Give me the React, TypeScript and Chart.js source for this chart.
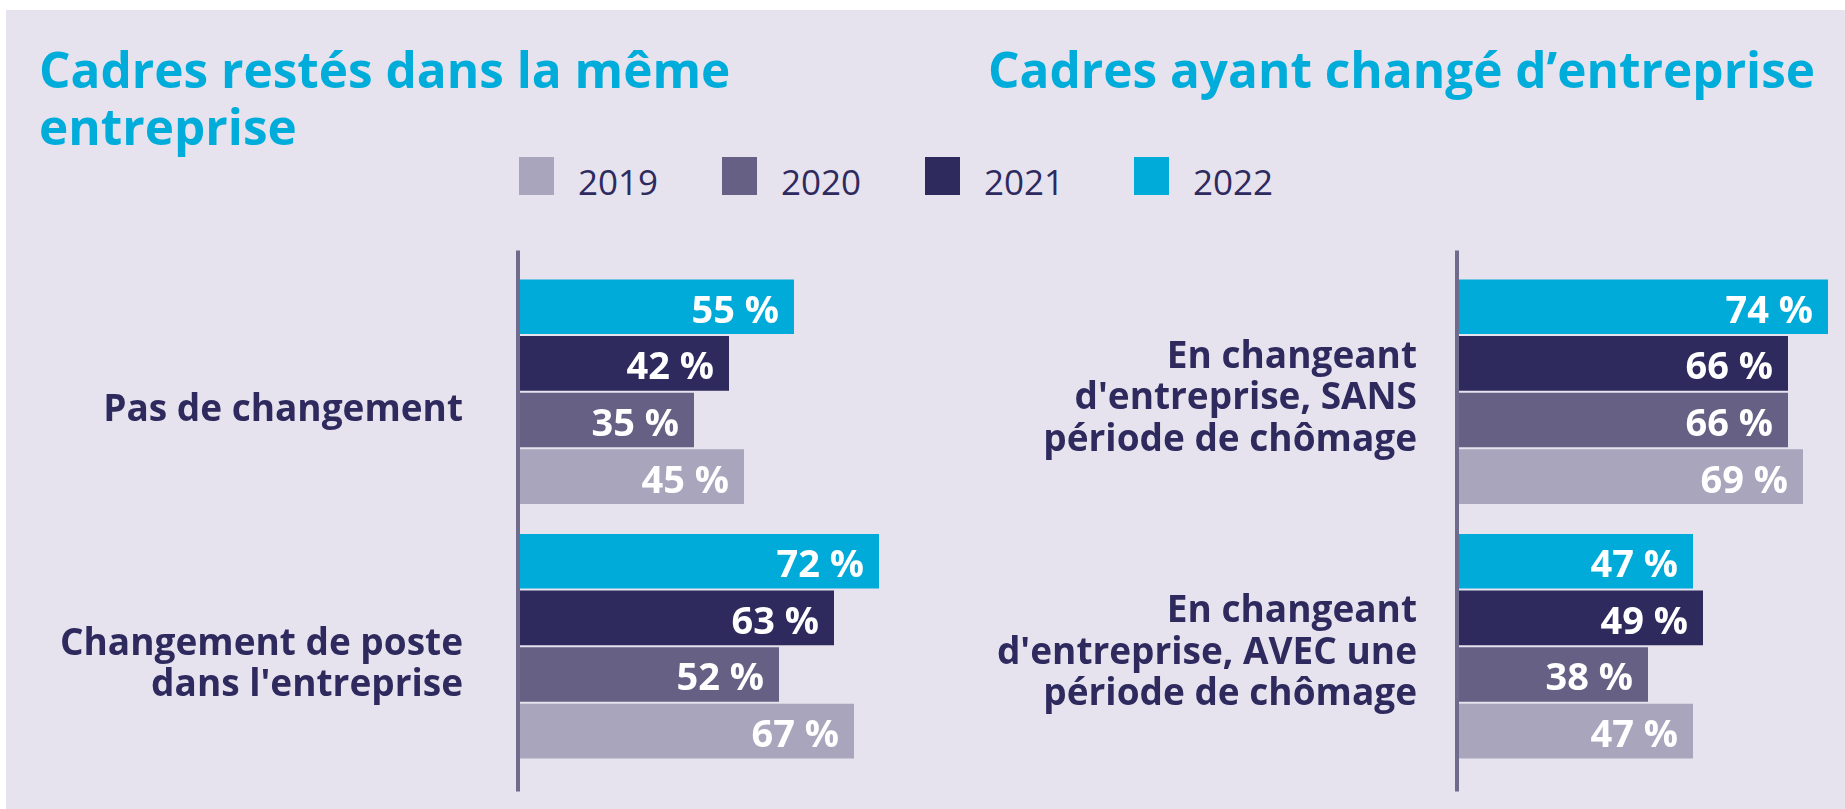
import React, { useEffect, useRef } from "react";
import { Chart, registerables } from "chart.js";

Chart.register(...registerables);

// ---- Data ----
const years = ["2019", "2020", "2021", "2022"];
const yearColors = ["#A9A5BD", "#666085", "#2E2A5E", "#00ABD9"];

const leftTitle = ["Cadres restés dans la même", "entreprise"];
const rightTitle = "Cadres ayant changé d’entreprise";

const leftCategories = [["Pas de changement"], ["Changement de poste", "dans l'entreprise"]];
const left2019 = [45, 67];
const left2020 = [35, 52];
const left2021 = [42, 63];
const left2022 = [55, 72];

const rightCategories = [
  ["En changeant", "d'entreprise, SANS", "période de chômage"],
  ["En changeant", "d'entreprise, AVEC une", "période de chômage"],
];
const right2019 = [69, 47];
const right2020 = [66, 38];
const right2021 = [66, 49];
const right2022 = [74, 47];

const axisMax = 75;

const FONT = "'Open Sans', 'DejaVu Sans', sans-serif";
const NAVY = "#2E2A5E";

const axisLinePlugin = {
  id: "axisLine",
  afterDatasetsDraw(chart: any) {
    const { ctx, chartArea, scales } = chart;
    const x = scales.x.getPixelForValue(0) - 1;
    ctx.save();
    ctx.strokeStyle = "#6F6B8D";
    ctx.lineWidth = 4;
    ctx.beginPath();
    ctx.moveTo(x, chartArea.top - 14);
    ctx.lineTo(x, chartArea.bottom + 18);
    ctx.stroke();
    ctx.restore();
  },
};

const valueLabelPlugin = {
  id: "valueLabels",
  afterDatasetsDraw(chart: any) {
    const { ctx } = chart;
    ctx.save();
    ctx.fillStyle = "#FFFFFF";
    ctx.font = `700 38px ${FONT}`;
    ctx.textAlign = "right";
    ctx.textBaseline = "alphabetic";
    chart.data.datasets.forEach((ds: any, i: number) => {
      const meta = chart.getDatasetMeta(i);
      meta.data.forEach((bar: any, j: number) => {
        ctx.fillText(`${ds.data[j]} %`, bar.x - 15, bar.y + 16);
      });
    });
    ctx.restore();
  },
};

type PanelProps = {
  labels: string[][];
  series: number[][]; // in order 2019..2022
  left: number;
  width: number;
  yWidth: number;
  tickPadding: number;
  labelOffset: number;
};

function BarPanel(props: PanelProps) {
  const ref = useRef<HTMLCanvasElement | null>(null);
  const top = 230;
  const height = 580;
  useEffect(() => {
    if (!ref.current) return;
    const order = [3, 2, 1, 0]; // top to bottom: 2022, 2021, 2020, 2019
    const chartAreaTop = 264.4 - top;
    const chartAreaBottom = 773.4 - top;
    const rightPad = props.width - (props.yWidth + axisMax * 5);
    const chart = new Chart(ref.current, {
      type: "bar",
      data: {
        labels: props.labels as any,
        datasets: order.map((i) => ({
          label: years[i],
          data: props.series[i],
          backgroundColor: yearColors[i],
          borderWidth: 0,
          categoryPercentage: 0.89,
          barPercentage: 0.965,
        })),
      },
      options: {
        indexAxis: "y",
        animation: false,
        responsive: false,
        maintainAspectRatio: false,
        devicePixelRatio: 1,
        layout: {
          padding: {
            top: chartAreaTop,
            bottom: height - chartAreaBottom,
            left: 0,
            right: rightPad,
          },
        },
        plugins: {
          legend: { display: false },
          tooltip: { enabled: false },
        },
        scales: {
          x: { display: false, min: 0, max: axisMax },
          y: {
            afterFit: (s: any) => {
              s.width = props.yWidth;
              s.paddingTop = 0;
              s.paddingBottom = 0;
            },
            grid: { display: false, drawTicks: false },
            border: { display: false },
            ticks: {
              autoSkip: false,
              padding: props.tickPadding,
              labelOffset: props.labelOffset,
              color: NAVY,
              font: { family: FONT, weight: "bold", size: 37, lineHeight: 1.12 },
            },
          },
        },
      } as any,
      plugins: [axisLinePlugin, valueLabelPlugin],
    });
    return () => chart.destroy();
  }, []);
  return (
    <canvas
      ref={ref}
      width={props.width}
      height={height}
      style={{ position: "absolute", left: props.left, top, width: props.width, height }}
    />
  );
}

export default function App() {
  useEffect(() => {
    document.body.style.margin = "0";
  }, []);
  const legendSquares = [519, 722, 925, 1134];
  const titleStyle: React.CSSProperties = {
    position: "absolute",
    fontFamily: FONT,
    fontWeight: 700,
    fontSize: 49.5,
    lineHeight: "57px",
    color: "#00ACDA",
    whiteSpace: "nowrap",
  };
  return (
    <div style={{ position: "absolute", left: 0, top: 0, width: 1845, height: 809, background: "#FFFFFF", overflow: "hidden" }}>
      <div style={{ position: "absolute", left: 6, top: 10, width: 1839, height: 799, background: "#E6E3EE" }} />
      <div style={{ ...titleStyle, left: 39, top: 41 }}>
        {leftTitle[0]}
        <br />
        {leftTitle[1]}
      </div>
      <div style={{ ...titleStyle, left: 988, top: 41 }}>{rightTitle}</div>
      {years.map((y, i) => (
        <React.Fragment key={y}>
          <div
            style={{
              position: "absolute",
              left: legendSquares[i],
              top: 157,
              width: 35,
              height: 38,
              background: yearColors[i],
            }}
          />
          <div
            style={{
              position: "absolute",
              left: legendSquares[i] + 59,
              top: 164,
              fontFamily: FONT,
              fontWeight: 400,
              fontSize: 35,
              lineHeight: "35px",
              color: NAVY,
              whiteSpace: "nowrap",
            }}
          >
            {y}
          </div>
        </React.Fragment>
      ))}
      <BarPanel
        labels={leftCategories}
        series={[left2019, left2020, left2021, left2022]}
        left={0}
        width={900}
        yWidth={519}
        tickPadding={56}
        labelOffset={19}
      />
      <BarPanel
        labels={rightCategories}
        series={[right2019, right2020, right2021, right2022]}
        left={920}
        width={925}
        yWidth={538}
        tickPadding={41}
        labelOffset={7}
      />
    </div>
  );
}
